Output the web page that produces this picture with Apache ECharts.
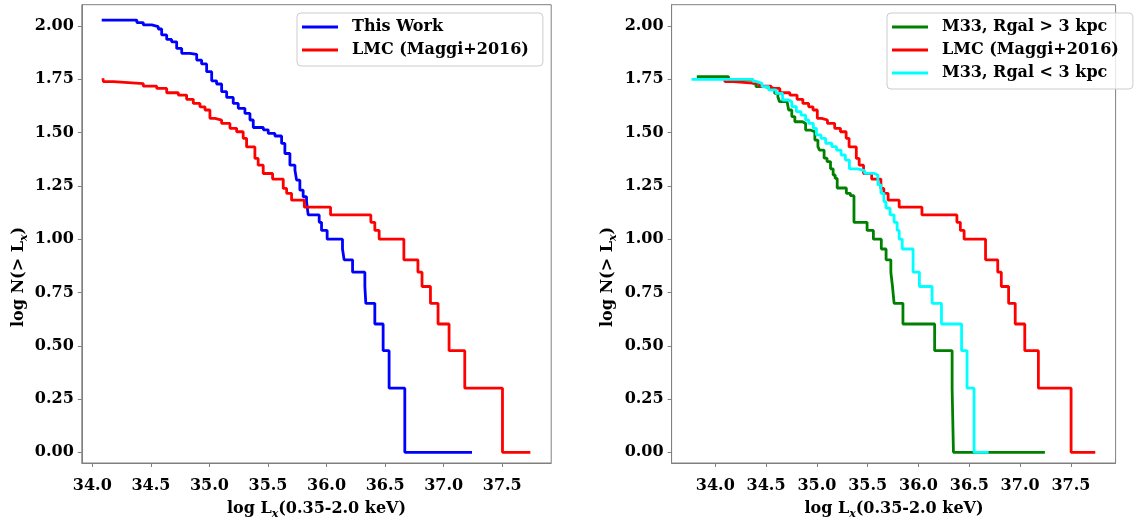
<!DOCTYPE html>
<html>
<head>
<meta charset="utf-8">
<script src="https://cdn.jsdelivr.net/npm/echarts@6/dist/echarts.min.js"></script>
<style>
  html, body { margin: 0; padding: 0; background: #fff; }
  #chart { width: 1140px; height: 521px; }
</style>
</head>
<body>
<div id="chart"></div>
<script>
// cumulative luminosity functions, [log Lx where the step drops, log N after the drop]
const thisWork = [
  [34.08, 2.028], [34.38, 2.016], [34.435, 2.005], [34.507, 1.997], [34.563, 1.986],
  [34.592, 1.958], [34.635, 1.937], [34.677, 1.926], [34.72, 1.895], [34.763, 1.872],
  [34.834, 1.867], [34.891, 1.840], [34.933, 1.822], [34.976, 1.786], [35.019, 1.743],
  [35.061, 1.728], [35.104, 1.692], [35.147, 1.665], [35.203, 1.637], [35.246, 1.614],
  [35.303, 1.590], [35.346, 1.559], [35.374, 1.524], [35.46, 1.513], [35.502, 1.496],
  [35.559, 1.484], [35.616, 1.449], [35.644, 1.402], [35.687, 1.347], [35.73, 1.324],
  [35.744, 1.277], [35.772, 1.230], [35.80, 1.199], [35.829, 1.176], [35.843, 1.114],
  [35.937, 1.079], [35.957, 1.041], [36.005, 1.0], [36.136, 0.954], [36.15, 0.903],
  [36.222, 0.845], [36.327, 0.778], [36.335, 0.699], [36.412, 0.602], [36.483, 0.477],
  [36.534, 0.301], [36.668, 0.0], [37.242, 0.0]
];
const lmc = [
  [34.09, 1.755], [34.095, 1.739], [34.18, 1.730], [34.435, 1.718], [34.55, 1.707],
  [34.635, 1.687], [34.734, 1.676], [34.805, 1.656], [34.862, 1.637], [34.919, 1.621],
  [34.962, 1.606], [35.004, 1.567], [35.047, 1.559], [35.104, 1.543], [35.175, 1.520],
  [35.232, 1.504], [35.288, 1.473], [35.317, 1.433], [35.388, 1.379], [35.416, 1.347],
  [35.459, 1.308], [35.539, 1.282], [35.63, 1.238], [35.659, 1.215], [35.701, 1.183],
  [35.81, 1.150], [36.034, 1.114], [36.378, 1.079], [36.412, 1.041], [36.449, 1.0],
  [36.66, 0.903], [36.78, 0.845], [36.815, 0.778], [36.887, 0.699], [36.952, 0.602],
  [37.046, 0.477], [37.18, 0.301], [37.502, 0.0], [37.74, 0.0]
];
const m33Outer = [
  [33.818, 1.763], [34.13, 1.748], [34.37, 1.731], [34.40, 1.716], [34.48, 1.707],
  [34.585, 1.684], [34.616, 1.668], [34.631, 1.645], [34.707, 1.637], [34.722, 1.606],
  [34.753, 1.575], [34.783, 1.551], [34.859, 1.543], [34.889, 1.512], [34.935, 1.504],
  [34.98, 1.465], [35.01, 1.434], [35.026, 1.418], [35.071, 1.380], [35.10, 1.364],
  [35.134, 1.330], [35.16, 1.301], [35.18, 1.285], [35.20, 1.240], [35.29, 1.215],
  [35.33, 1.204], [35.365, 1.079], [35.494, 1.041], [35.556, 1.0], [35.634, 0.954],
  [35.681, 0.903], [35.728, 0.845], [35.744, 0.778], [35.76, 0.699], [35.847, 0.602],
  [36.159, 0.477], [36.331, 0.301], [36.344, 0.0], [37.244, 0.0]
];
const m33Inner = [
  [33.766, 1.750], [34.37, 1.740], [34.40, 1.731], [34.46, 1.716], [34.525, 1.700],
  [34.60, 1.684], [34.662, 1.653], [34.722, 1.645], [34.753, 1.622], [34.798, 1.598],
  [34.844, 1.582], [34.889, 1.559], [34.92, 1.543], [34.965, 1.520], [34.995, 1.489],
  [35.041, 1.473], [35.086, 1.450], [35.147, 1.434], [35.193, 1.418], [35.238, 1.395],
  [35.28, 1.371], [35.32, 1.330], [35.40, 1.322], [35.47, 1.309], [35.56, 1.301],
  [35.60, 1.255], [35.63, 1.215], [35.66, 1.176], [35.68, 1.146], [35.72, 1.114],
  [35.76, 1.079], [35.79, 1.041], [35.81, 1.0], [35.84, 0.954], [35.947, 0.845],
  [36.009, 0.778], [36.134, 0.699], [36.226, 0.602], [36.424, 0.477], [36.478, 0.301],
  [36.547, 0.0], [36.69, 0.0]
];
const xTicks = [34.0, 34.5, 35.0, 35.5, 36.0, 36.5, 37.0, 37.5];
const yTicks = [0, 0.25, 0.5, 0.75, 1.0, 1.25, 1.5, 1.75, 2.0];

const FONT = "DejaVu Serif";
const SPINE = "#808080";
const labelStyle = { fontFamily: FONT, fontWeight: "bold", fontSize: 16, color: "#000" };

function xAxisCfg(grid, min, max) {
  return {
    gridIndex: grid, type: "value", min: min, max: max,
    axisLine: { show: true, onZero: false, lineStyle: { color: SPINE, width: 1 } },
    axisTick: { show: true, length: 4, customValues: xTicks, lineStyle: { color: SPINE } },
    axisLabel: Object.assign({ customValues: xTicks, margin: 15, formatter: (v) => v.toFixed(1) }, labelStyle),
    splitLine: { show: false },
  };
}
function yAxisCfg(grid) {
  return {
    gridIndex: grid, type: "value", min: -0.05, max: 2.1,
    axisLine: { show: true, onZero: false, lineStyle: { color: SPINE, width: 1 } },
    axisTick: { show: true, length: 4, customValues: yTicks, lineStyle: { color: SPINE } },
    axisLabel: Object.assign({ customValues: yTicks, margin: 8, formatter: (v) => v.toFixed(2) }, labelStyle),
    splitLine: { show: false },
  };
}
function stepSeries(name, data, color, idx) {
  return {
    name: name, type: "line", step: "end", data: data,
    xAxisIndex: idx, yAxisIndex: idx,
    showSymbol: false, symbol: "none",
    color: color,
    itemStyle: { color: color },
    lineStyle: { color: color, width: 2.8 },
  };
}
function legendCfg(left, names) {
  return {
    orient: "vertical", left: left, top: 13, data: names,
    icon: "rect", itemWidth: 36, itemHeight: 3, itemGap: 5,
    padding: [5, 14, 7, 5],
    borderColor: "#cccccc", borderWidth: 1, borderRadius: 4,
    backgroundColor: "rgba(255,255,255,0.8)",
    textStyle: Object.assign({ lineHeight: 18, padding: [0, 0, 0, 9] }, labelStyle),
  };
}
const rich = {
  n: { fontFamily: FONT, fontWeight: "bold", fontSize: 16, lineHeight: 22, color: "#000" },
  s: { fontFamily: FONT, fontWeight: "bold", fontStyle: "italic", fontSize: 11, lineHeight: 11, verticalAlign: "bottom", color: "#000" },
};
function titleText(x, y, text, rotate) {
  return {
    type: "text", x: x, y: y, rotation: rotate ? Math.PI / 2 : 0,
    style: { text: text, rich: rich, align: "center", verticalAlign: "middle",
             textAlign: "center", textVerticalAlign: "middle" },
  };
}

const myChart = echarts.init(document.getElementById("chart"));
const option = {
  animation: false,
  backgroundColor: "#fff",
  grid: [
    { left: 81.8, top: 4.7, width: 469.4, height: 458.3, show: true, borderColor: SPINE, borderWidth: 1 },
    { left: 671.6, top: 4.7, width: 444, height: 458.3, show: true, borderColor: SPINE, borderWidth: 1 },
  ],
  xAxis: [xAxisCfg(0, 33.91, 37.918), xAxisCfg(1, 33.57, 37.94)],
  yAxis: [yAxisCfg(0), yAxisCfg(1)],
  legend: [
    legendCfg(297, ["This Work", "LMC (Maggi+2016)"]),
    legendCfg(887, ["M33, Rgal > 3 kpc", "LMC (Maggi+2016)", "M33, Rgal < 3 kpc"]),
  ],
  graphic: [
    titleText(19, 277, "{n|log N(> L}{s|x}{n|)}", true),
    titleText(608, 277, "{n|log N(> L}{s|x}{n|)}", true),
    titleText(316.5, 509, "{n|log L}{s|x}{n|(0.35-2.0 keV)}", false),
    titleText(894, 509, "{n|log L}{s|x}{n|(0.35-2.0 keV)}", false),
  ],
  series: [
    stepSeries("This Work", thisWork, "#0000ff", 0),
    stepSeries("LMC (Maggi+2016)", lmc, "#ff0000", 0),
    stepSeries("M33, Rgal > 3 kpc", m33Outer, "#008000", 1),
    stepSeries("LMC (Maggi+2016)", lmc, "#ff0000", 1),
    stepSeries("M33, Rgal < 3 kpc", m33Inner, "#00ffff", 1),
  ],
};
myChart.setOption(option);
</script>
</body>
</html>
